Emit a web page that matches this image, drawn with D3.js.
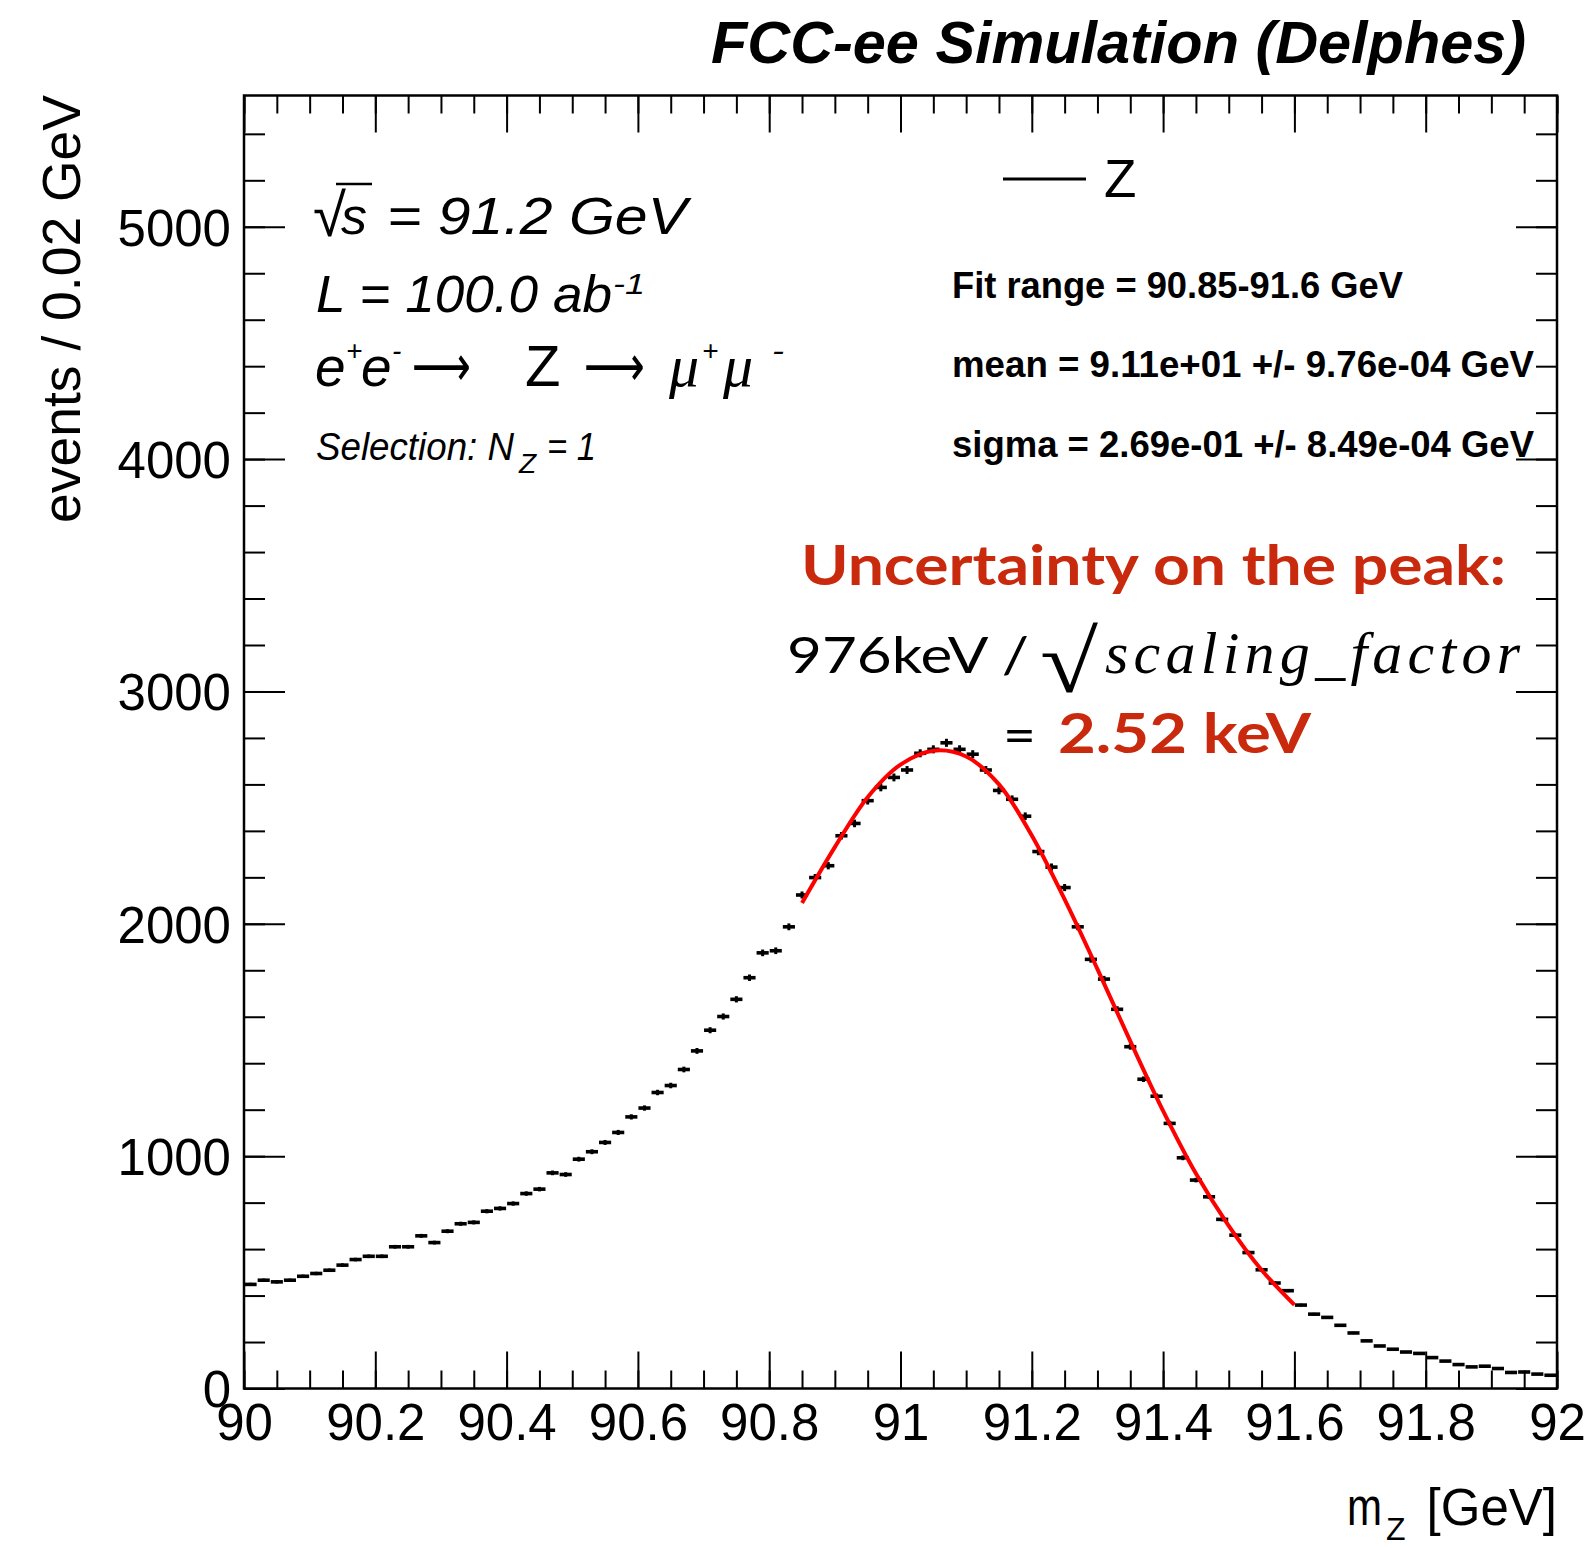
<!DOCTYPE html>
<html>
<head>
<meta charset="utf-8">
<style>
  body { margin: 0; background: #fff; }
  svg { display: block; }
</style>
</head>
<body>
<svg id="chart"></svg>
<script src="https://d3js.org/d3.v7.min.js"></script>
<script>
const W = 1589, H = 1548;

// histogram: 100 bins of 0.02 GeV from 90 to 92 (counts)
const binLow = 90.0, binWidth = 0.02;
const counts = [
  448, 466, 459, 466, 483, 495, 509, 531, 555, 569,
  569, 610, 610, 657, 628, 677, 709, 715, 763, 775,
  796, 839, 858, 928, 921, 987, 1019, 1059, 1102, 1169,
  1207, 1274, 1304, 1373, 1453, 1542, 1601, 1675, 1768, 1875,
  1884, 1987, 2124, 2199, 2250, 2379, 2432, 2530, 2587, 2630,
  2662, 2734, 2751, 2779, 2751, 2730, 2662, 2574, 2536, 2463,
  2311, 2244, 2156, 1987, 1847, 1762, 1632, 1471, 1331, 1258,
  1141, 993, 897, 825, 728, 660, 585, 511, 454, 421,
  359, 320, 306, 272, 239, 205, 183, 169, 157, 151,
  133, 118, 103, 93, 96, 86, 69, 71, 62, 57
];

const fitX = [90.85, 90.90, 90.95, 91.00, 91.05, 91.10, 91.15, 91.20,
              91.25, 91.30, 91.35, 91.40, 91.45, 91.50, 91.55, 91.60];
const fitY = [2090, 2330, 2545, 2685, 2745, 2720, 2600, 2380,
              2105, 1805, 1495, 1195, 925, 700, 510, 360];

const xMajor = [90, 90.2, 90.4, 90.6, 90.8, 91, 91.2, 91.4, 91.6, 91.8, 92];
const xMinor = d3.range(0, 41).map(i => 90 + i * 0.05);
const yMajor = [0, 1000, 2000, 3000, 4000, 5000];
const yMinor = d3.range(0, 28).map(i => i * 200);

const frameL = 244, frameR = 1557, frameT = 95.5, frameB = 1388.5;
const x = d3.scaleLinear().domain([90, 92]).range([frameL, frameR]);
const y = d3.scaleLinear().domain([0, 5565]).range([frameB, frameT]);

const svg = d3.select("#chart").attr("width", W).attr("height", H)
  .style("background", "#fff");

const SANS = "'Liberation Sans', Arial, Helvetica, sans-serif";
const SERIF = "'Liberation Serif', 'Times New Roman', serif";
const GEO = "Lato, 'Open Sans', sans-serif";

// axes (ticks on all four sides, ROOT style)
function axisG(axis, tx, ty) {
  const g = svg.append("g").attr("transform", `translate(${tx},${ty})`).call(axis);
  g.select(".domain").remove();
  g.selectAll("line").attr("stroke", "#000").attr("stroke-width", 2);
  g.selectAll("text").attr("font-family", SANS).attr("font-size", 51).attr("fill", "#000");
  return g;
}
const fmt = d => String(+d.toFixed(1));

axisG(d3.axisBottom(x).tickValues(xMinor).tickSize(-18).tickFormat(""), 0, frameB);
axisG(d3.axisBottom(x).tickValues(xMajor).tickSize(-37).tickPadding(15).tickFormat(fmt), 0, frameB);
axisG(d3.axisTop(x).tickValues(xMinor).tickSize(-18).tickFormat(""), 0, frameT);
axisG(d3.axisTop(x).tickValues(xMajor).tickSize(-37).tickFormat(""), 0, frameT);

axisG(d3.axisLeft(y).tickValues(yMinor).tickSize(-21).tickFormat(""), frameL, 0);
const yl = axisG(d3.axisLeft(y).tickValues(yMajor).tickSize(-41).tickPadding(13).tickFormat(d3.format("d")), frameL, 0);
yl.selectAll("text").attr("dy", "0.36em");
axisG(d3.axisRight(y).tickValues(yMinor).tickSize(-21).tickFormat(""), frameR, 0);
axisG(d3.axisRight(y).tickValues(yMajor).tickSize(-41).tickFormat(""), frameR, 0);

// frame
svg.append("rect")
  .attr("x", frameL).attr("y", frameT)
  .attr("width", frameR - frameL).attr("height", frameB - frameT)
  .attr("fill", "none").attr("stroke", "#000").attr("stroke-width", 2.5);

// histogram markers
const bins = counts.map((v, i) => ({ lo: binLow + i * binWidth, hi: binLow + (i + 1) * binWidth, v }));
const hist = svg.append("g");
hist.selectAll("line.h").data(bins).enter().append("line")
  .attr("class", "h")
  .attr("x1", d => x(d.lo) + 0.5).attr("x2", d => x(d.hi) - 0.5)
  .attr("y1", d => y(d.v)).attr("y2", d => y(d.v))
  .attr("stroke", "#000").attr("stroke-width", 3.6);
hist.selectAll("line.e").data(bins).enter().append("line")
  .attr("class", "e")
  .attr("x1", d => x((d.lo + d.hi) / 2)).attr("x2", d => x((d.lo + d.hi) / 2))
  .attr("y1", d => y(d.v - Math.sqrt(d.v) * 0.33)).attr("y2", d => y(d.v + Math.sqrt(d.v) * 0.33))
  .attr("stroke", "#000").attr("stroke-width", 3);

// fit curve
const fitPts = fitX.map((v, i) => [v, fitY[i]]);
svg.append("path")
  .datum(fitPts)
  .attr("d", d3.line().x(d => x(d[0])).y(d => y(d[1])).curve(d3.curveCatmullRom.alpha(0.5)))
  .attr("fill", "none").attr("stroke", "#ff0000").attr("stroke-width", 4);

// text helper
function addText(px, py, str, o) {
  const t = svg.append("text").attr("x", px).attr("y", py).text(str)
    .attr("font-family", o.family || SANS)
    .attr("font-size", o.size)
    .attr("font-style", o.italic ? "italic" : "normal")
    .attr("font-weight", o.weight || "normal")
    .attr("fill", o.color || "#000");
  if (o.len) t.attr("textLength", o.len).attr("lengthAdjust", o.adjust || "spacingAndGlyphs");
  if (o.anchor) t.attr("text-anchor", o.anchor);
  return t;
}

// title
addText(711, 63, "FCC-ee Simulation (Delphes)", { size: 60, italic: true, weight: "bold", len: 815 });

// axis titles
addText(0, 0, "events / 0.02 GeV", { size: 53, len: 428 })
  .attr("transform", "translate(80,523) rotate(-90)");
addText(1347, 1525, "m", { size: 51, len: 35 });
addText(1386, 1540, "Z", { size: 32 });
addText(1557, 1525, "[GeV]", { size: 51, anchor: "end" });

// left info block
addText(313, 236, "\u221A", { size: 60, italic: true });
addText(341, 234, "s", { size: 52, italic: true });
svg.append("line").attr("x1", 336).attr("x2", 372).attr("y1", 184).attr("y2", 184)
  .attr("stroke", "#000").attr("stroke-width", 2.5);
addText(387, 234, "= 91.2 GeV", { size: 52, italic: true, len: 300 });

addText(316, 312, "L = 100.0 ab", { size: 52, italic: true, len: 296 });
addText(613, 294, "-1", { size: 30, italic: true, len: 32 });

addText(315, 386, "e", { size: 55, italic: true });
addText(346, 360, "+", { size: 28, italic: true });
addText(361, 386, "e", { size: 55, italic: true });
addText(392, 360, "-", { size: 28, italic: true });
addText(412, 386, "\u27F6", { size: 58, family: "'DejaVu Sans', sans-serif", len: 59 });
addText(525, 386, "Z", { size: 58 });
addText(584, 386, "\u27F6", { size: 58, family: "'DejaVu Sans', sans-serif", len: 61 });
addText(669, 386, "\u03BC", { size: 60, italic: true, family: SERIF });
addText(702, 360, "+", { size: 28, italic: true });
addText(723, 386, "\u03BC", { size: 60, italic: true, family: SERIF });
addText(772, 360, "-", { size: 28, italic: true, len: 12 });

addText(316, 460, "Selection: N", { size: 38, italic: true, len: 198 });
addText(519, 473, "Z", { size: 28, italic: true });
addText(547, 460, "= 1", { size: 38, italic: true, len: 49 });

// legend
svg.append("line").attr("x1", 1003).attr("x2", 1086).attr("y1", 179).attr("y2", 179)
  .attr("stroke", "#000").attr("stroke-width", 3);
addText(1104, 197, "Z", { size: 53 });

// fit results
addText(952, 298, "Fit range = 90.85-91.6 GeV", { size: 36, weight: "bold", len: 451 });
addText(952, 377, "mean = 9.11e+01 +/- 9.76e-04 GeV", { size: 36, weight: "bold", len: 582 });
addText(952, 457, "sigma = 2.69e-01 +/- 8.49e-04 GeV", { size: 36, weight: "bold", len: 582 });

// annotation
const RED = "#c9290c";
addText(801, 585, "Uncertainty on the peak:", { size: 55, weight: "bold", color: RED, family: GEO, len: 705 });
addText(787, 673, "976keV /", { size: 50, family: GEO, len: 242 });
addText(1040, 692, "\u221A", { size: 88, family: SERIF, len: 58 });
addText(1105, 673, "scaling_factor", { size: 60, italic: true, family: SERIF, len: 415, adjust: "spacing" });
addText(1003, 753, "=", { size: 50, family: GEO, len: 33 });
addText(1058, 753, "2.52 keV", { size: 55, weight: "bold", color: RED, family: GEO, len: 253 });
</script>
</body>
</html>
